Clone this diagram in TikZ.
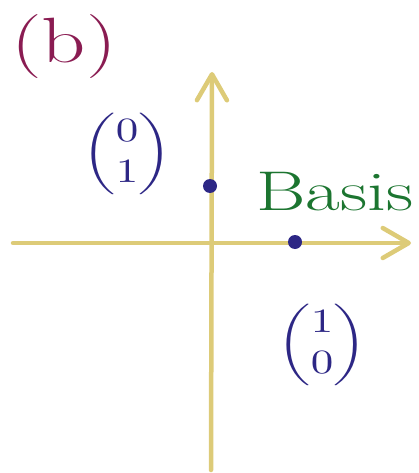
\documentclass[tikz,border=0pt]{standalone}
\usepackage{amsmath}
\usetikzlibrary{arrows.meta}
\definecolor{axisyellow}{HTML}{DDCB78}
\definecolor{vecblue}{HTML}{2D2785}
\definecolor{basisgreen}{HTML}{1C7530}
\definecolor{labelmag}{HTML}{8A1C52}
\newcommand{\vecpm}[2]{\scalebox{4.5}[3.4]{$\begin{pmatrix}#1\\#2\end{pmatrix}$}}
\tikzset{
  axisline/.style={draw=axisyellow, line width=4.5pt, line cap=round,
    -{Straight Barb[length=26pt, width=30pt, line width=4.5pt, round]}},
  vecdot/.style={circle, fill=vecblue, inner sep=0pt, minimum size=14pt},
  veclabel/.style={text=vecblue, inner sep=0pt},
}
\begin{document}
\begin{tikzpicture}[x=1pt, y=-1pt]
\useasboundingbox (0,0) rectangle (419,473);
% axes
\coordinate (ytop) at (212,72);
\coordinate (ybot) at (211,470);
\coordinate (xleft) at (13,243);
\coordinate (xright) at (411,243);
\draw[axisline] (ybot) -- (ytop);
\draw[axisline] (xleft) -- (xright);
% points
\node[vecdot] (e2) at (210,186) {};
\node[vecdot] (e1) at (295,242) {};
% labels
\node[text=labelmag, inner sep=0pt] (blabel) at (64,47)
  {\scalebox{1.35}[1]{\fontsize{64}{64}\selectfont (b)}};
\node[veclabel] (v01) at (127,154) {\vecpm{0}{1}};
\node[veclabel] (v10) at (322,345) {\vecpm{1}{0}};
\node[text=basisgreen, inner sep=0pt] (basis) at (335,192)
  {\scalebox{1.35}[1]{\fontsize{56}{56}\selectfont Basis}};
\end{tikzpicture}
\end{document}
